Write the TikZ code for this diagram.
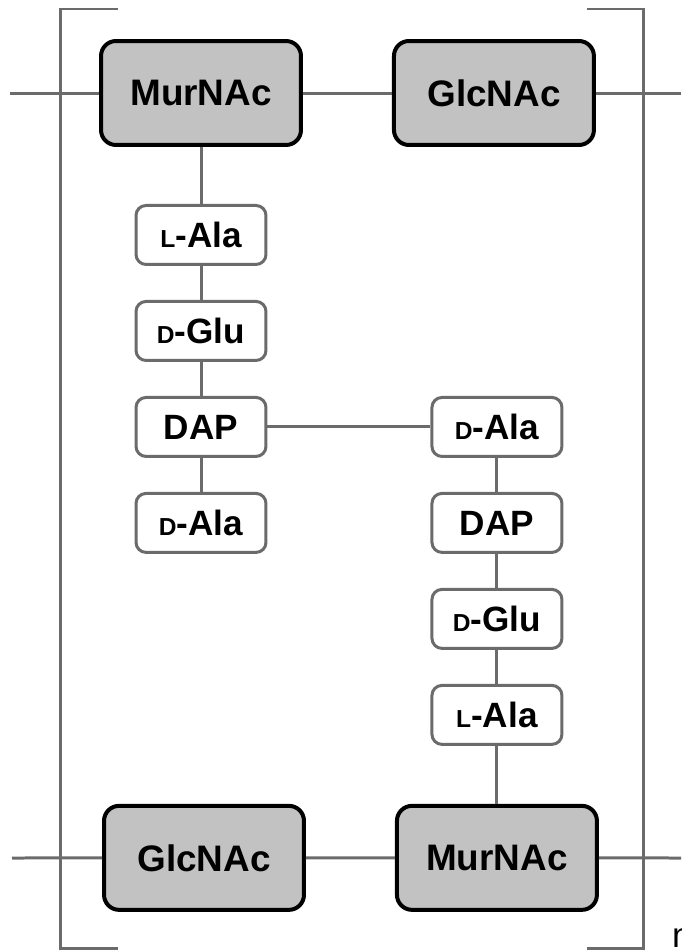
\documentclass[tikz,border=0pt]{standalone}
\usepackage{fontspec}
\setmainfont{Liberation Sans}
\usetikzlibrary{positioning}
\definecolor{lnk}{gray}{0.42}
\definecolor{sugar}{gray}{0.76}
\newcommand{\cfg}[1]{{\fontsize{14}{14}\selectfont #1}}

\begin{document}
\begin{tikzpicture}[
x=0.02cm,y=-0.02cm,
node distance=0.68cm and 1.78cm,
  snode/.style={draw=black,fill=sugar,rounded corners=0.3cm,line width=0.08cm,minimum width=4cm,minimum height=2.08cm,font=\fontsize{21}{24}\selectfont\bfseries},
  anode/.style={draw=lnk,fill=white,rounded corners=0.2cm,line width=0.06cm,minimum width=2.6cm,minimum height=1.18cm,font=\fontsize{20}{22}\selectfont\bfseries},
  link/.style={draw=lnk,line width=0.06cm}
]
\clip (0,0) rectangle (681,950);
\node[snode] (M1) at (201,93) {MurNAc};
\node[snode,right=of M1] (G1) {GlcNAc};
\node[anode,below=1.14cm of M1] (A1) {\cfg{L}-Ala};
\node[anode,below=of A1] (E1) {\cfg{D}-Glu};
\node[anode,below=of E1] (P1) {DAP};
\node[anode,below=of P1] (D1) {\cfg{D}-Ala};
\node[anode,right=3.26cm of P1] (D2) {\cfg{D}-Ala};
\node[anode,below=of D2] (P2) {DAP};
\node[anode,below=of P2] (E2) {\cfg{D}-Glu};
\node[anode,below=of E2] (A2) {\cfg{L}-Ala};
\node[snode,below=1.16cm of A2] (M2) {MurNAc};
\node[snode,left=of M2] (G2) {GlcNAc};
\node[anchor=base west,font=\fontsize{20}{22}\selectfont] (n) at (666,947) {n};
\coordinate (l1) at (10,93);
\coordinate (r1) at (681,93);
\coordinate (l2) at (12,858);
\coordinate (r2) at (681,858);
% glycan strands
\draw[link] (l1) -- (M1) -- (G1) -- (r1);
\draw[link] (l2) -- (G2) -- (M2) -- (r2);
% peptide stems
\draw[link] (M1) -- (A1) -- (E1) -- (P1) -- (D1);
\draw[link] (M2) -- (A2) -- (E2) -- (P2) -- (D2);
\draw[link] (P1) -- (D2);
% brackets
\draw[link] (118,9) -- (60,9) -- (60,948) -- (118,948);
\draw[link] (587,9) -- (643,9) -- (643,948) -- (587,948);
\end{tikzpicture}
\end{document}
